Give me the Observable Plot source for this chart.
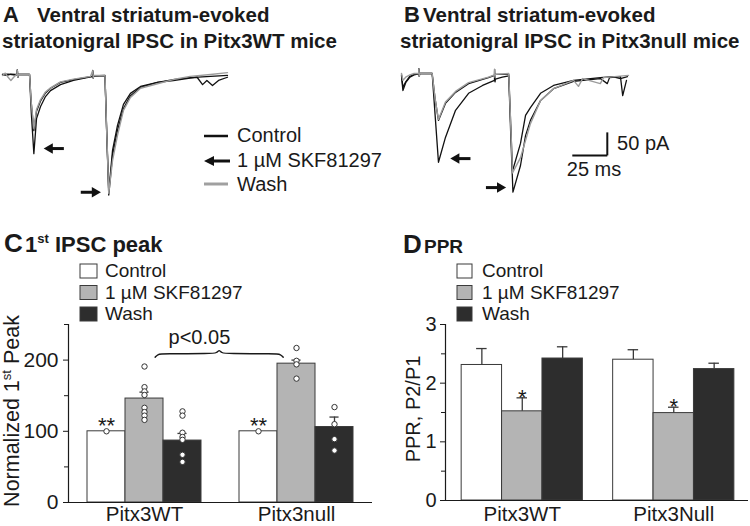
<!DOCTYPE html>
<html><head><meta charset="utf-8">
<script src="https://cdn.jsdelivr.net/npm/d3@7"></script>
<script src="https://cdn.jsdelivr.net/npm/@observablehq/plot@0.6"></script>
<style>
body{margin:0;background:#fff}
#fig{position:relative;width:750px;height:526px;overflow:hidden;font-family:"Liberation Sans",Arial,sans-serif;color:#1a1a1a}
#fig > svg{position:absolute}
</style></head>
<body><div id="fig"></div>
<script>
// ---------- DATA ----------
const conditions = ["Control", "1 µM SKF81297", "Wash"];
const groupsC = ["Pitx3WT", "Pitx3null"];
const groupsD = ["Pitx3WT", "Pitx3Null"];

// Panel C: normalized 1st peak (%), mean and SEM per group x condition
const peakMean = [[100, 146, 87], [100, 195, 106]];
const peakSem  = [[0, 9, 10], [0, 5, 14]];
const peakPointsWT   = [[100], [191, 162, 156, 151, 133, 127, 122, 116], [128, 122, 98, 92, 88, 67, 57]];
const peakPointsNull = [[100], [217, 199, 194, 174], [134, 110, 89, 73]];

// Panel D: paired-pulse ratio
const pprMean = [[2.31, 1.52, 2.42], [2.40, 1.49, 2.24]];
const pprSem  = [[0.28, 0.23, 0.20], [0.17, 0.10, 0.10]];

// Panel A traces (ms, pA)
const traceA_control = [[0,0],[3,-2],[6,1],[9,0],[10.5,0],[10.6,10],[10.9,-6],[11.3,0],[15,0],[19.3,0],[20.5,-60],[22.4,-122],[24.3,-80],[27.1,-58],[30.7,-40],[34.3,-30],[41.4,-17],[50.7,-11],[62,-5],[64.3,-4],[64.4,8],[64.8,-8],[65.2,-3],[70,-3],[73.2,-3],[74.5,-130],[75.9,-255],[78.6,-165],[82.1,-111],[86.4,-65],[91.4,-41],[98.6,-26],[110.7,-17],[122,-13],[134,-8],[139,-6],[142.9,-22],[146,-13],[150,-24],[154.3,-13],[160.7,-6]];
const traceA_skf = [[0,0],[4,1],[8,-1],[10.5,0],[10.6,10],[10.9,-6],[11.3,0],[19.3,0],[20.6,-85],[22.4,-172],[24.3,-96],[27.1,-70],[30.7,-48],[34.3,-35],[41.4,-22],[50.7,-13],[62.9,-5],[64.3,-4],[64.4,9],[64.8,-7],[65.2,-3],[73.2,-2],[74.5,-135],[75.9,-262],[78.6,-176],[82.1,-122],[86.4,-74],[91.4,-46],[98.6,-28],[110.7,-17],[122,-11],[134,-7],[148.6,-4],[160.7,-2]];
const traceA_wash = [[0,-2],[2,3],[4,-6],[6,-13],[8,-6],[10,0],[10.5,0],[10.6,10],[10.9,-6],[11.3,0],[19.3,0],[20.5,-60],[22.4,-118],[24.3,-76],[27.1,-55],[30.7,-38],[34.3,-29],[41.4,-16],[50.7,-10],[62.9,-4],[64.4,8],[64.8,-7],[65.2,-2],[73.2,-2],[74.5,-130],[75.9,-258],[78.6,-187],[82.1,-133],[86.4,-78],[91.4,-50],[98.6,-30],[110.7,-20],[122,-11],[134,-4],[148.6,0],[160.7,4]];

// Panel B traces (ms, pA)
const traceB_control = [[0,-5],[1,-37],[3,-20],[6,-8],[9,-3],[12.3,-1],[12.4,10],[12.7,-6],[13,0],[21.9,0],[24,-55],[26.4,-102],[31.4,-65],[38.6,-41],[47.9,-22],[62.1,-9],[66.4,-4],[66.5,9],[66.8,-8],[67.1,-2],[76.6,-2],[78,-110],[79.3,-212],[85,-152],[88.6,-91],[92.1,-74],[99.3,-43],[108.6,-26],[122.9,-15],[142,-9],[150.7,-7],[156.4,-11],[161.4,-7]];
const traceB_skf = [[0,-3],[1,-30],[3,-18],[6,-6],[9,-2],[12.3,0],[12.4,10],[12.7,-6],[13,0],[21.9,0],[24,-90],[26.4,-193],[31.4,-139],[38.6,-80],[47.9,-43],[57.9,-26],[66.4,-15],[66.5,0],[66.8,-18],[67.1,-12],[72,-8],[76.6,-5],[78,-130],[79.6,-258],[85,-200],[88.6,-135],[92.1,-102],[99.3,-59],[108.6,-33],[122.9,-17],[142,-11],[147,-22],[148.6,-9],[156.4,-7],[158,-48],[160.7,-15]];
const traceB_wash = [[0,0],[1,-15],[3,-8],[6,-3],[9,0],[12.3,0],[12.4,10],[12.7,-6],[13,0],[21.9,0],[24,-55],[26.4,-100],[31.4,-62],[38.6,-39],[47.9,-20],[62.1,-8],[66.4,-3],[66.5,9],[66.8,-8],[67.1,-2],[76.6,0],[78,-110],[79.3,-216],[85,-183],[92.1,-109],[99.3,-59],[108.6,-33],[122.9,-15],[126.4,-28],[129.3,-11],[142,-22],[144.3,-9],[162.1,-4]];

// scale bar (ms, pA)
const scaleBarMs = 25, scaleBarPa = 50;

// ---------- STYLE / LAYOUT ----------
const FONT = '"Liberation Sans", Arial, sans-serif';
const fills = ["#ffffff", "#b4b4b4", "#2d2d2d"];
const barStroke = "#3a3a3a";
const ink = "#1a1a1a";
const fig = document.getElementById("fig");
function place(el, left, top) { el.style.left = left + "px"; el.style.top = top + "px"; fig.appendChild(el); }

const pxPerMs = 1.4, pxPerPa = 0.46;
function tracePlot(traces, opts) {
  const {width, height, x0px, basePx, arrows, extra} = opts;
  const xdom = [-x0px / pxPerMs, (width - x0px) / pxPerMs];
  const ydom = [-(height - basePx) / pxPerPa, basePx / pxPerPa];
  const lines = traces.map(t => Plot.line(t.data, {x: d => d[0], y: d => d[1], stroke: t.color, strokeWidth: t.w}));
  const arrowMarks = [];
  arrows.forEach(a => {
    // a.x = tip (ms), a.dir = -1 (points left) or 1 (points right)
    const headC = a.x - a.dir * 5.9 / pxPerMs;
    const tail = a.x - a.dir * 20 / pxPerMs;
    arrowMarks.push(Plot.link([a], {x1: () => headC, x2: () => tail, y1: "y", y2: "y", stroke: "#111", strokeWidth: 3}));
    arrowMarks.push(Plot.dot([a], {x: () => headC, y: "y", symbol: "triangle", r: 3.9, fill: "#111", stroke: "none", rotate: a.dir < 0 ? -90 : 90}));
  });
  return Plot.plot({
    width, height, margin: 0,
    x: {domain: xdom, range: [0, width], axis: null},
    y: {domain: ydom, range: [height, 0], axis: null},
    style: {background: "transparent", fontFamily: FONT, fontSize: "20px", color: ink},
    marks: [...lines, ...arrowMarks, ...(extra || [])]
  });
}
function peakOf(tr, from, to) {
  let best = null;
  tr.forEach(p => { if (p[0] >= from && p[0] <= to && (!best || p[1] < best[1])) best = p; });
  return best;
}

// Panel A
{
  const p1 = peakOf(traceA_skf, 15, 40), p2 = peakOf(traceA_skf, 70, 90);
  const arrows = [
    {x: p1[0] + 10 / pxPerMs, y: p1[1] + 11, dir: -1},
    {x: p2[0] - 8 / pxPerMs, y: p2[1] + 6, dir: 1}
  ];
  const svg = tracePlot([
    {data: traceA_control, color: "#111", w: 1.3},
    {data: traceA_skf, color: "#111", w: 1.3},
    {data: traceA_wash, color: "#9c9c9c", w: 1.4}
  ], {width: 235, height: 145, x0px: 2, basePx: 14, arrows});
  place(svg, 0, 60);
}
// Panel B
{
  const p1 = peakOf(traceB_skf, 15, 40), p2 = peakOf(traceB_skf, 70, 90);
  const arrows = [
    {x: p1[0] + 12 / pxPerMs, y: p1[1] + 8, dir: -1},
    {x: p2[0] - 7 / pxPerMs, y: p2[1] + 10, dir: 1}
  ];
  const corner = [147, -178];
  const bar = [
    {x1: corner[0] - scaleBarMs, x2: corner[0], y1: corner[1], y2: corner[1]},
    {x1: corner[0], x2: corner[0], y1: corner[1], y2: corner[1] + scaleBarPa}
  ];
  const extra = [
    Plot.link(bar, {x1: "x1", x2: "x2", y1: "y1", y2: "y2", stroke: "#111", strokeWidth: 2}),
    Plot.text([`${scaleBarPa} pA`], {x: corner[0] + 7, y: corner[1] + scaleBarPa / 2, textAnchor: "start", lineAnchor: "middle", fontSize: 20, fill: ink}),
    Plot.text([`${scaleBarMs} ms`], {x: corner[0] - scaleBarMs / 2 + 3, y: corner[1], textAnchor: "middle", lineAnchor: "top", dy: 6, fontSize: 20, fill: ink})
  ];
  const svg = tracePlot([
    {data: traceB_control, color: "#111", w: 1.3},
    {data: traceB_skf, color: "#111", w: 1.3},
    {data: traceB_wash, color: "#9c9c9c", w: 1.4}
  ], {width: 290, height: 145, x0px: 6, basePx: 13, arrows, extra});
  place(svg, 395, 60);
}

// Bar panels
function barRows(means, sems, starts) {
  const rows = [];
  means.forEach((g, gi) => g.forEach((m, ci) => rows.push({gi, ci, x1: starts[gi] + ci, x2: starts[gi] + ci + 1, xc: starts[gi] + ci + 0.5, mean: m, top: m + sems[gi][ci]})));
  return rows;
}
function barPlot(o) {
  const rows = barRows(o.means, o.sems, o.starts);
  const errs = rows.filter(r => r.top > r.mean);
  const centers = o.starts.map(s => s + 1.5);
  const marks = [
    Plot.rectY(rows, {x1: "x1", x2: "x2", y: "mean", fill: d => fills[d.ci], stroke: barStroke, strokeWidth: 1}),
    Plot.ruleX(errs, {x: "xc", y1: "mean", y2: "top", stroke: barStroke, strokeWidth: 1.3}),
    Plot.ruleY(errs, {y: "top", x1: d => d.xc - o.cap, x2: d => d.xc + o.cap, stroke: barStroke, strokeWidth: 1.3}),
    ...(o.extra ? o.extra(rows) : []),
    Plot.ruleX([o.xdom[0]], {y1: o.ydom[0], y2: o.ydom[1], stroke: ink, strokeWidth: 1.2}),
    Plot.ruleY([o.ydom[0]], {x1: o.xdom[0], x2: o.xdom[1], stroke: ink, strokeWidth: 1.2}),
    Plot.axisY({ticks: o.major, tickSize: 5, tickPadding: o.tickPad, fontSize: o.tickFont, tickFormat: d => String(d), stroke: ink}),
    Plot.axisY({ticks: o.minor, tickSize: 4, tickFormat: () => "", stroke: ink}),
    Plot.axisX({ticks: centers, tickFormat: d => o.groups[centers.indexOf(d)], tickSize: 0, tickPadding: o.xPad, fontSize: 20.5})
  ];
  return Plot.plot({
    width: o.width, height: o.height,
    marginLeft: o.ml, marginRight: o.mr, marginTop: o.mt, marginBottom: o.mb,
    x: {domain: o.xdom, axis: null},
    y: {domain: o.ydom, axis: null},
    style: {background: "transparent", fontFamily: FONT, fontSize: "21px", color: ink},
    marks
  });
}

// Panel C
{
  const starts = [0.5, 4.5];
  const svg = barPlot({
    means: peakMean, sems: peakSem, starts, groups: groupsC, cap: 0.12,
    width: 375, height: 221, ml: 68, mr: 3, mt: 19, mb: 24, xdom: [0, 8], ydom: [0, 250],
    major: [0, 100, 200], minor: [50, 150, 250], tickPad: 5, tickFont: 21, xPad: 4,
    extra: rows => {
      const pts = [];
      [peakPointsWT, peakPointsNull].forEach((g, gi) => g.forEach((vals, ci) => vals.forEach(v => pts.push({x: starts[gi] + ci + 0.5, v}))));
      const ctrl = rows.filter(r => r.ci === 0);
      // brace between WT SKF and null SKF
      const bx0 = 2.28, bx1 = 5.65, by = 209, bm = (bx0 + bx1) / 2;
      const brace = [[bx0, by - 5], [bx0 + 0.06, by - 1], [bx0 + 0.2, by], [bm - 0.2, by], [bm - 0.06, by + 1], [bm, by + 6], [bm + 0.06, by + 1], [bm + 0.2, by], [bx1 - 0.2, by], [bx1 - 0.06, by - 1], [bx1, by - 5]];
      return [
        Plot.dot(pts, {x: "x", y: "v", r: 2.7, fill: "white", stroke: "#333", strokeWidth: 1}),
        Plot.text(ctrl, {x: "xc", y: "mean", text: () => "**", lineAnchor: "bottom", dy: 2, fontSize: 22, fill: ink}),
        Plot.line(brace, {x: d => d[0], y: d => d[1], curve: "basis", stroke: ink, strokeWidth: 1.4}),
        Plot.text(["p<0.05"], {x: bm - 0.52, y: 223, lineAnchor: "bottom", textAnchor: "middle", fontSize: 20, fill: ink})
      ];
    }
  });
  place(svg, 0, 305);
}
// Panel D
{
  const svg = barPlot({
    means: pprMean, sems: pprSem, starts: [0.4, 4.15], groups: groupsD, cap: 0.13,
    width: 375, height: 221, ml: 70, mr: 2, mt: 19, mb: 26, xdom: [0, 7.5], ydom: [0, 3],
    major: [0, 1, 2, 3], minor: [0.5, 1.5, 2.5], tickPad: 4, tickFont: 20, xPad: 6,
    extra: rows => [
      Plot.text(rows.filter(r => r.ci === 1), {x: "xc", y: "top", text: () => "*", lineAnchor: "bottom", dy: 7, fontSize: 22, fill: ink})
    ]
  });
  place(svg, 375, 305);
}

// ---------- Titles, legends, axis titles (overlay) ----------
const legendRows = [277, 298.5, 320];
function barLegend(bx, tx, w) {
  return conditions.map((c, i) => `<rect x="${bx}" y="${legendRows[i] - 13}" width="${w}" height="14" fill="${fills[i]}" stroke="${barStroke}" stroke-width="1"/>` +
    `<text x="${tx}" y="${legendRows[i]}" font-size="19">${c}</text>`).join("");
}
const traceLegendY = [142, 167, 191];
const overlay = `
<svg xmlns="http://www.w3.org/2000/svg" width="750" height="526" style="left:0;top:0;pointer-events:none" font-family='${FONT}' fill="${ink}">
  <text x="3" y="22" font-size="22" font-weight="bold">A</text>
  <text x="37" y="22" font-size="20.5" font-weight="bold">Ventral striatum-evoked</text>
  <text x="2" y="48" font-size="20.5" font-weight="bold">striatonigral IPSC in Pitx3WT mice</text>
  <text x="404" y="22" font-size="22" font-weight="bold">B</text>
  <text x="423" y="22" font-size="20.5" font-weight="bold">Ventral striatum-evoked</text>
  <text x="400" y="48" font-size="20.5" font-weight="bold">striatonigral IPSC in Pitx3null mice</text>

  <line x1="204" x2="228" y1="136" y2="136" stroke="#111" stroke-width="2.5"/>
  <text x="237" y="${traceLegendY[0]}" font-size="20">${conditions[0]}</text>
  <line x1="212" x2="230" y1="161" y2="161" stroke="#111" stroke-width="3"/>
  <path d="M204,161 L214,156 L214,166 Z" fill="#111"/>
  <text x="237" y="${traceLegendY[1]}" font-size="20">${conditions[1]}</text>
  <line x1="204" x2="228" y1="184" y2="184" stroke="#a0a0a0" stroke-width="3"/>
  <text x="237" y="${traceLegendY[2]}" font-size="20">${conditions[2]}</text>

  <text x="4" y="252" font-size="26" font-weight="bold">C</text>
  <text x="25" y="252" font-size="22" font-weight="bold">1<tspan font-size="13" dy="-9">st</tspan><tspan dy="9"> IPSC peak</tspan></text>
  <text x="403" y="253" font-size="26" font-weight="bold">D</text>
  <text x="424" y="253" font-size="19" font-weight="bold">PPR</text>

  ${barLegend(80, 105, 17)}
  ${barLegend(457, 482, 15)}

  <text transform="translate(19,411) rotate(-90)" text-anchor="middle" font-size="21.5">Normalized 1<tspan font-size="13" dy="-8">st</tspan><tspan dy="8"> Peak</tspan></text>
  <text transform="translate(420,409) rotate(-90)" text-anchor="middle" font-size="20">PPR, P2/P1</text>
</svg>`;
fig.insertAdjacentHTML("beforeend", overlay);
</script>
</body></html>
